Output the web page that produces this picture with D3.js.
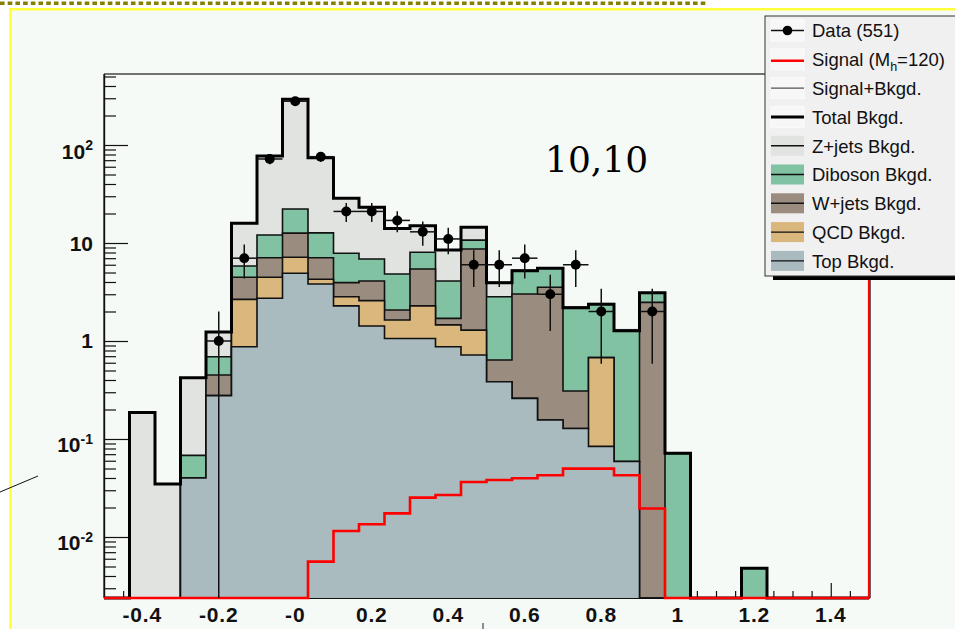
<!DOCTYPE html>
<html>
<head>
<meta charset="utf-8">
<script src="https://cdn.jsdelivr.net/npm/d3@7"></script>
<style>
  html, body { margin: 0; padding: 0; background: #ffffff; }
  svg { display: block; }
</style>
</head>
<body>
<svg id="chart" width="955" height="629"></svg>
<script>
// ---- binning of the discriminant ----
const xMin = -0.5, xMax = 1.5, nBins = 30;

// ---- expected background contributions per bin (events) ----
const topBkgd     = [0,0,0,0.040,0.277,0.875,2.73,4.91,3.82,2.28,1.42,1.06,1.06,0.875,0.72,0.384,0.26,0.156,0.128,0.084,0.059,0,0,0,0,0,0,0,0,0];
const qcdBkgd     = [0,0,0,0,0,1.785,1.74,2.24,0.44,0.55,1.16,0.58,1.22,0.585,0.57,0,0,0,0,0.592,0,0,0,0,0,0,0,0,0,0];
const wjetsBkgd   = [0,0,0,0,0.173,1.81,2.61,5.45,2.82,1.11,1.52,0.43,3.15,0.24,7.40,0.256,2.76,3.374,0.181,0,0,2.48,0,0,0,0,0,0,0,0];
const dibosonBkgd = [0,0,0,0.028,0.241,1.35,4.99,9.6,5.62,3.91,2.77,2.76,2.61,2.40,2.01,2.19,2.20,1.99,1.881,1.694,1.211,0.63,0.0714,0,0,0.0048,0,0,0,0];
const zjetsBkgd   = [0,0.186,0.0347,0.354,0.544,10.08,65.13,270.4,61.5,20.75,16.23,9.27,6.96,4.38,3.8,1.11,0,0,0,0,0,0,0,0,0,0,0,0,0,0];

// ---- Higgs signal, M_h = 120 ----
const signalHist  = [0,0,0,0,0,0,0,0,0.0056,0.0115,0.0135,0.0174,0.0252,0.0268,0.0364,0.0382,0.0397,0.0426,0.0498,0.0498,0.0426,0.0195,0,0,0,0,0,0,0,0];

// ---- observed events ----
const dataCounts  = [0,0,0,0,1,7,72,280,76,21,21,17,13,11,6,6,7,3,6,2,0,2,0,0,0,0,0,0,0,0];

// ---- axis ticks ----
const xTickValues = [-0.4,-0.2,0,0.2,0.4,0.6,0.8,1,1.2,1.4];
const xTickLabels = ["-0.4","-0.2","-0","0.2","0.4","0.6","0.8","1","1.2","1.4"];
const yTickValues = [0.01,0.1,1,10,100];
const yTickBase   = ["10","10","1","10","10"];
const yTickExp    = ["-2","-1","","","2"];

// ---- legend ----
const bkgdKeys    = ["top","qcd","wjets","diboson","zjets"];
const bkgdNames   = ["Top Bkgd.","QCD Bkgd.","W+jets Bkgd.","Diboson Bkgd.","Z+jets Bkgd."];
const bkgdColors  = ["#a9bbbf","#dab77d","#9b8c80","#80c2a1","#e0e3e0"];

const svg = d3.select("#chart");
const W = 955, H = 629;
const plot = { left: 104, right: 869, top: 74, bottom: 598 };

// page background and decorations
svg.append("rect").attr("x", 0).attr("y", 0).attr("width", W).attr("height", H).attr("fill", "#ffffff");
svg.append("rect").attr("x", 10).attr("y", 9).attr("width", W - 10).attr("height", H - 9).attr("fill", "#f6faf7");
svg.append("line").attr("x1", 0).attr("x2", 707).attr("y1", 3.3).attr("y2", 3.3)
  .attr("stroke", "#858000").attr("stroke-width", 3.6).attr("stroke-dasharray", "4.6 3.1");
svg.append("line").attr("x1", 9).attr("x2", W).attr("y1", 9.2).attr("y2", 9.2)
  .attr("stroke", "#ffff3a").attr("stroke-width", 2.4);
svg.append("line").attr("x1", 10.4).attr("x2", 10.4).attr("y1", 8).attr("y2", H)
  .attr("stroke", "#ffff3a").attr("stroke-width", 2.4);
svg.append("line").attr("x1", 0).attr("y1", 492).attr("x2", 38).attr("y2", 476)
  .attr("stroke", "#111").attr("stroke-width", 1);
svg.append("line").attr("x1", 483).attr("x2", 483).attr("y1", 623).attr("y2", H)
  .attr("stroke", "#222").attr("stroke-width", 1);

// scales
const x = d3.scaleLinear().domain([xMin, xMax]).range([plot.left, plot.right]);
const yLow = 0.002385, yHigh = 530.3;
const y = d3.scaleLog().domain([yLow, yHigh]).range([plot.bottom, plot.top]);
const yc = v => (v > yLow ? Math.max(y(v), plot.top) : plot.bottom);

const edges = d3.range(nBins + 1).map(i => xMin + i * (xMax - xMin) / nBins);
const centers = d3.range(nBins).map(i => (edges[i] + edges[i + 1]) / 2);

// step outline points of a histogram
function stepPoints(vals) {
  const pts = [[edges[0], 0]];
  vals.forEach((v, i) => { pts.push([edges[i], v]); pts.push([edges[i + 1], v]); });
  pts.push([edges[nBins], 0]);
  return pts;
}
const stepLine = d3.line().x(p => x(p[0])).y(p => yc(p[1]));
const stepArea = d3.area().x(p => x(p[0])).y0(plot.bottom).y1(p => yc(p[1]));

// axes (drawn first, histograms cover the ticks)
const gAxes = svg.append("g");
const yMinor = [];
for (let e = -3; e <= 2; e++) for (let k = 2; k <= 9; k++) {
  const v = k * Math.pow(10, e);
  if (v > yLow && v < yHigh) yMinor.push(v);
}
gAxes.append("g").attr("transform", `translate(${plot.left},0)`)
  .call(d3.axisLeft(y).tickValues(yMinor).tickSizeInner(-12).tickSizeOuter(0).tickFormat(""));
gAxes.append("g").attr("transform", `translate(${plot.left},0)`)
  .call(d3.axisLeft(y).tickValues(yTickValues).tickSizeInner(-24).tickSizeOuter(0).tickFormat(""));
const xMinor = d3.range(-9, 30).map(i => i * 0.05).filter(v => v > xMin && v < xMax && Math.abs(Math.round(v / 0.2) * 0.2 - v) > 1e-6);
gAxes.append("g").attr("transform", `translate(0,${plot.bottom})`)
  .call(d3.axisBottom(x).tickValues(xMinor).tickSizeInner(-7).tickSizeOuter(0).tickFormat(""));
gAxes.append("g").attr("transform", `translate(0,${plot.bottom})`)
  .call(d3.axisBottom(x).tickValues(xTickValues).tickSizeInner(-15).tickSizeOuter(0).tickFormat(""));
gAxes.selectAll("path.domain, .tick line").attr("stroke", "#111").attr("stroke-width", 1.2);

// stacked backgrounds
const rows = d3.range(nBins).map(i => ({
  top: topBkgd[i], qcd: qcdBkgd[i], wjets: wjetsBkgd[i], diboson: dibosonBkgd[i], zjets: zjetsBkgd[i]
}));
const stacked = d3.stack().keys(bkgdKeys)(rows);
const gStack = svg.append("g");
stacked.slice().reverse().forEach(s => {
  const idx = bkgdKeys.indexOf(s.key);
  const pts = stepPoints(s.map(d => d[1]));
  gStack.append("path").attr("d", stepArea(pts)).attr("fill", bkgdColors[idx]);
  gStack.append("path").attr("d", stepLine(pts)).attr("fill", "none")
    .attr("stroke", "#111").attr("stroke-width", 1.6).attr("stroke-linejoin", "miter");
});

// total background and signal + background
const totalBkgd = stacked[stacked.length - 1].map(d => d[1]);
const sigPlusBkgd = totalBkgd.map((v, i) => v + signalHist[i]);
svg.append("path").attr("d", stepLine(stepPoints(sigPlusBkgd))).attr("fill", "none")
  .attr("stroke", "#555").attr("stroke-width", 1);
svg.append("path").attr("d", stepLine(stepPoints(totalBkgd))).attr("fill", "none")
  .attr("stroke", "#000").attr("stroke-width", 3).attr("stroke-linejoin", "miter");

// frame
svg.append("line").attr("x1", plot.left).attr("x2", plot.right).attr("y1", plot.top).attr("y2", plot.top)
  .attr("stroke", "#444").attr("stroke-width", 1.4);
svg.append("line").attr("x1", plot.left).attr("x2", plot.left).attr("y1", plot.top).attr("y2", plot.bottom)
  .attr("stroke", "#111").attr("stroke-width", 1.2);

// signal
svg.append("path").attr("d", stepLine(stepPoints(signalHist))).attr("fill", "none")
  .attr("stroke", "#ff0000").attr("stroke-width", 2.6);
svg.append("line").attr("x1", plot.right + 1.2).attr("x2", plot.right + 1.2).attr("y1", plot.top).attr("y2", plot.bottom)
  .attr("stroke", "#222").attr("stroke-width", 1);
svg.append("line").attr("x1", plot.right).attr("x2", plot.right).attr("y1", plot.top).attr("y2", plot.bottom + 1)
  .attr("stroke", "#ff0000").attr("stroke-width", 2.2);

// data with statistical errors
const gData = svg.append("g");
dataCounts.forEach((n, i) => {
  if (n <= 0) return;
  const e = Math.sqrt(n);
  const cy = y(n);
  gData.append("line").attr("x1", x(edges[i])).attr("x2", x(edges[i + 1])).attr("y1", cy).attr("y2", cy)
    .attr("stroke", "#111").attr("stroke-width", 1.5);
  gData.append("line").attr("x1", x(centers[i])).attr("x2", x(centers[i]))
    .attr("y1", yc(n + e)).attr("y2", yc(n - e))
    .attr("stroke", "#111").attr("stroke-width", 1.5);
  gData.append("circle").attr("cx", x(centers[i])).attr("cy", cy).attr("r", 5).attr("fill", "#000");
});

// tick labels
const gLab = svg.append("g").attr("font-family", "'Liberation Sans', Arial, sans-serif")
  .attr("font-weight", "bold").attr("fill", "#111");
xTickValues.forEach((v, i) => {
  gLab.append("text").attr("x", x(v)).attr("y", 622).attr("text-anchor", "middle")
    .attr("font-size", 21).attr("letter-spacing", 0.8).text(xTickLabels[i]);
});
yTickValues.forEach((v, i) => {
  const hasExp = yTickExp[i] !== "";
  const t = gLab.append("text").attr("x", 93).attr("y", y(v) + (hasExp ? 13.5 : 7.5))
    .attr("text-anchor", "end").attr("font-size", 21);
  t.append("tspan").text(yTickBase[i]);
  if (hasExp) t.append("tspan").attr("font-size", 14).attr("dy", -8.5).text(yTickExp[i]);
});

// annotation
svg.append("text").attr("x", 545).attr("y", 172).attr("font-family", "'DejaVu Serif', serif")
  .attr("font-size", 36).attr("fill", "#000").text("10,10");

// legend
const leg = svg.append("g");
const lx = 765, ly = 16, lw = 200, lh = 260;
leg.append("rect").attr("x", lx + 8).attr("y", ly + 4).attr("width", lw).attr("height", lh).attr("fill", "#000");
leg.append("rect").attr("x", lx).attr("y", ly).attr("width", lw).attr("height", lh)
  .attr("fill", "#f0f0f0").attr("stroke", "#333").attr("stroke-width", 1);
const rowY = i => 30.5 + i * 28.8;
const symX0 = 771, symX1 = 804, textX = 812;
const entries = [
  { kind: "data", label: null },
  { kind: "signal" },
  { kind: "sigbkgd", label: "Signal+Bkgd." },
  { kind: "total", label: "Total Bkgd." }
].concat(bkgdKeys.slice().reverse().map(k => ({ kind: "fill", key: k, label: bkgdNames[bkgdKeys.indexOf(k)] })));
const gText = leg.append("g").attr("font-family", "'Liberation Sans', Arial, sans-serif")
  .attr("font-size", 18.5).attr("fill", "#111");
entries.forEach((en, i) => {
  const cy = rowY(i);
  if (en.kind === "fill") {
    leg.append("rect").attr("x", symX0).attr("y", cy - 10).attr("width", symX1 - symX0).attr("height", 20)
      .attr("fill", bkgdColors[bkgdKeys.indexOf(en.key)]);
    leg.append("line").attr("x1", symX0).attr("x2", symX1).attr("y1", cy).attr("y2", cy)
      .attr("stroke", "#111").attr("stroke-width", 1.4);
  } else {
    leg.append("rect").attr("x", symX0).attr("y", cy - 10.5).attr("width", symX1 - symX0).attr("height", 21)
      .attr("fill", "#f7f7f7").attr("stroke", "#fbfbfb").attr("stroke-width", 1);
    const ln = leg.append("line").attr("x1", symX0).attr("x2", symX1).attr("y1", cy).attr("y2", cy);
    if (en.kind === "data") {
      ln.attr("stroke", "#111").attr("stroke-width", 1.4);
      leg.append("circle").attr("cx", (symX0 + symX1) / 2).attr("cy", cy).attr("r", 4.8).attr("fill", "#000");
    } else if (en.kind === "signal") {
      ln.attr("y1", cy + 1.5).attr("y2", cy + 1.5).attr("stroke", "#ff0000").attr("stroke-width", 2.6);
    } else if (en.kind === "sigbkgd") {
      ln.attr("stroke", "#555").attr("stroke-width", 1.4);
    } else {
      ln.attr("stroke", "#000").attr("stroke-width", 3);
    }
  }
  const t = gText.append("text").attr("x", textX).attr("y", cy + 6.8);
  if (en.kind === "data") {
    t.text(`Data (${d3.sum(dataCounts)})`);
  } else if (en.kind === "signal") {
    t.append("tspan").text("Signal (M");
    t.append("tspan").attr("font-size", 12.5).attr("dy", 5).text("h");
    t.append("tspan").attr("dy", -5).text("=120)");
  } else {
    t.text(en.label);
  }
});
</script>
</body>
</html>
